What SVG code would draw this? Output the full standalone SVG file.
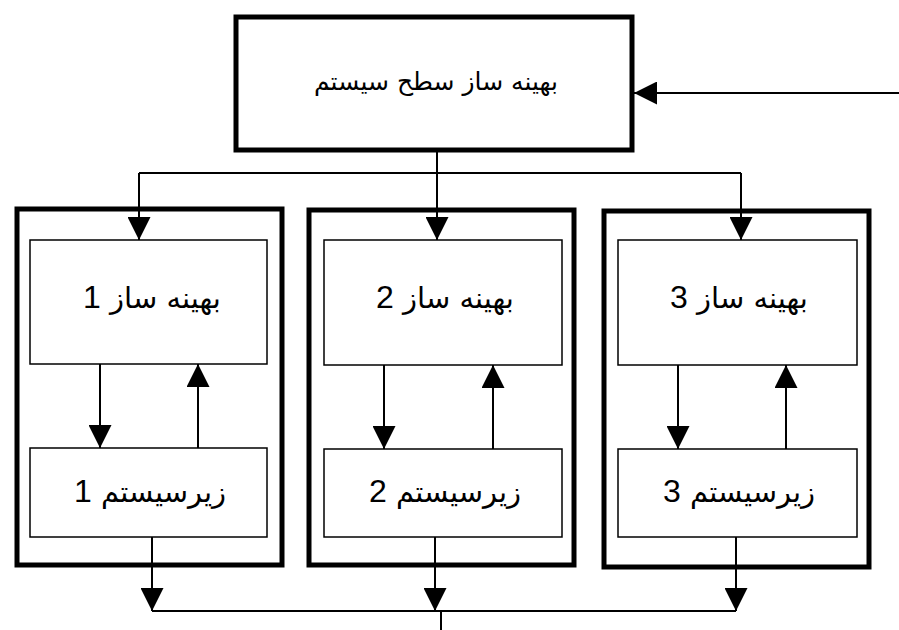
<svg xmlns="http://www.w3.org/2000/svg" width="899" height="630" viewBox="0 0 899 630">
<defs>
<marker id="ah" markerUnits="userSpaceOnUse" markerWidth="23" markerHeight="23" refX="23" refY="11.5" orient="auto">
<path d="M0,0 L23,11.5 L0,23 z" fill="#000"/>
</marker>
<style>
.thick{fill:#fff;stroke:#000;stroke-width:5}
.thin{fill:#fff;stroke:#000;stroke-width:1.5}
.c{fill:none;stroke:#000;stroke-width:2}
.a{fill:none;stroke:#000;stroke-width:2;marker-end:url(#ah)}
text{font-family:"DejaVu Sans",sans-serif;font-size:29px;fill:#000;text-anchor:middle;direction:rtl}
.d{font-family:"Liberation Sans",sans-serif;font-size:32px}
</style>
</defs>
<rect width="899" height="630" fill="#fff"/>
<g id="group1"><rect class="thick" x="17" y="209" width="265" height="356"/></g>
<g id="group2"><rect class="thick" x="309" y="210" width="265" height="355"/></g>
<g id="group3"><rect class="thick" x="604" y="211" width="265" height="356"/></g>
<g id="top"><rect class="thick" x="236" y="17" width="396" height="133"/><text x="436" y="90" style="font-size:25px">بهینه ساز سطح سیستم</text></g>
<g id="opt1"><rect class="thin" x="30" y="240" width="237" height="124"/><text x="152" y="308">بهینه ساز <tspan class="d">1</tspan></text></g>
<g id="sub1"><rect class="thin" x="30" y="448" width="237" height="89"/><text x="150" y="502">زیرسیستم <tspan class="d">1</tspan></text></g>
<g id="opt2"><rect class="thin" x="324" y="240" width="238" height="125"/><text x="445" y="308">بهینه ساز <tspan class="d">2</tspan></text></g>
<g id="sub2"><rect class="thin" x="324" y="449" width="238" height="88"/><text x="445" y="502">زیرسیستم <tspan class="d">2</tspan></text></g>
<g id="opt3"><rect class="thin" x="618" y="240" width="239" height="125"/><text x="739" y="308">بهینه ساز <tspan class="d">3</tspan></text></g>
<g id="sub3"><rect class="thin" x="618" y="449" width="239" height="88"/><text x="739" y="502">زیرسیستم <tspan class="d">3</tspan></text></g>
<g id="connectors">
<path class="a" d="M899,93 L634,93"/>
<path class="c" d="M437,152 L437,173"/>
<path class="c" d="M139,173 L741,173"/>
<path class="a" d="M139,173 L139,240"/>
<path class="a" d="M437,173 L437,240"/>
<path class="a" d="M741,173 L741,240"/>
<path class="a" d="M100,364 L100,448"/>
<path class="a" d="M198,448 L198,364"/>
<path class="a" d="M384,365 L384,449"/>
<path class="a" d="M493,449 L493,365"/>
<path class="a" d="M678,365 L678,449"/>
<path class="a" d="M786,449 L786,365"/>
<path class="a" d="M152,537 L152,611"/>
<path class="a" d="M435,537 L435,611"/>
<path class="a" d="M736,537 L736,611"/>
<path class="c" d="M152,611 L736,611"/>
<path class="c" d="M441,611 L441,630"/>
</g>
</svg>
